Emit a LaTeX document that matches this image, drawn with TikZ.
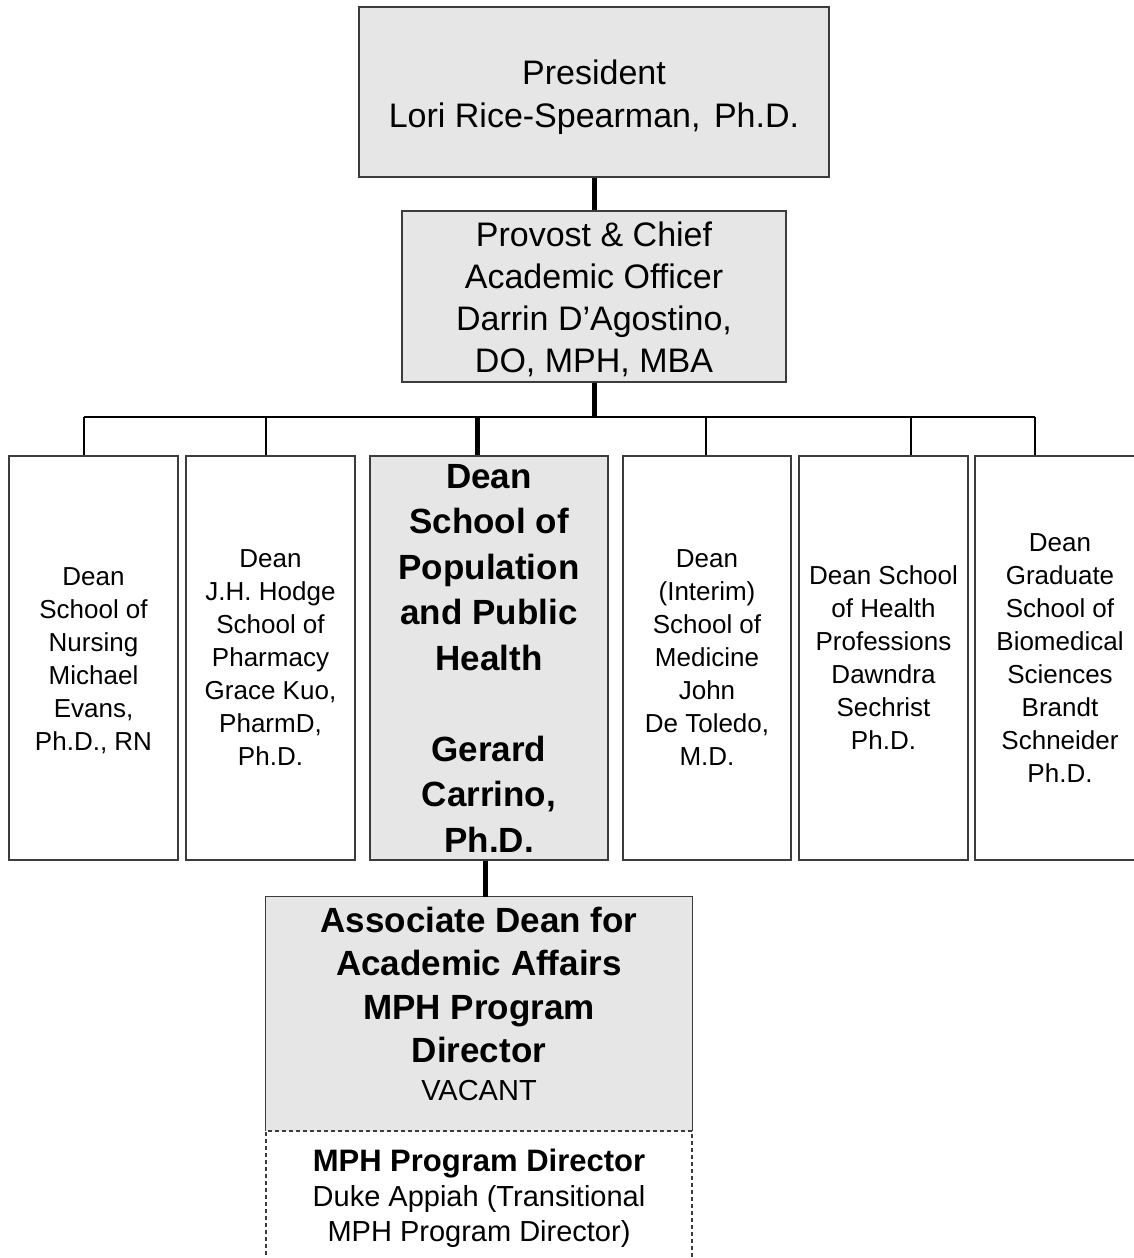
\documentclass[tikz,border=0pt]{standalone}
\usepackage{fontspec}
\setmainfont{Liberation Sans}
\definecolor{boxgray}{RGB}{230,230,230}
\definecolor{edgecol}{RGB}{60,60,60}
\begin{document}
\begin{tikzpicture}[x=1bp,y=-1bp,
  orgbox/.style={draw=edgecol, line width=1.3bp, inner sep=0pt, align=center, text=black},
  graybox/.style={orgbox, fill=boxgray},
  deanbox/.style={orgbox, minimum height=404bp, font=\fontsize{26bp}{33bp}\selectfont},
  conn/.style={line width=1.4bp, black},
  trunk/.style={line width=5bp, black}]
\useasboundingbox (0,0) rectangle (1134,1258);
\clip (0,0) rectangle (1134,1258);
\fill[white] (0,0) rectangle (1134,1258);

\node[graybox, minimum width=470bp, minimum height=170bp, font=\fontsize{34bp}{43bp}\selectfont] (pres) at (594,92) {\rule{0pt}{35bp}President\\Lori Rice-Spearman,\hspace{0.12em} Ph.D.};
\node[graybox, minimum width=384bp, minimum height=171bp, font=\fontsize{34bp}{42bp}\selectfont] (prov) at (594,296.5) {\rule{0pt}{31bp}Provost \& Chief\\Academic Officer\\Darrin D’Agostino,\\DO, MPH, MBA};

\node[deanbox, minimum width=169bp] (d1) at (93.5,658) {\rule{0pt}{24bp}Dean\\School of\\Nursing\\Michael\\Evans,\\Ph.D., RN};
\node[deanbox, minimum width=169bp] (d2) at (270.5,658) {Dean\\J.H. Hodge\\School of\\Pharmacy\\Grace Kuo,\\PharmD,\\Ph.D.};
\node[deanbox, fill=boxgray, minimum width=238bp, font=\fontsize{35bp}{45.5bp}\selectfont\bfseries] (d3) at (489,658) {Dean\\School of\\Population\\and Public\\Health\\[45.5bp]Gerard\\Carrino,\\Ph.D.};
\node[deanbox, minimum width=168bp] (d4) at (707,658) {Dean\\(Interim)\\School of\\Medicine\\John\\De Toledo,\\M.D.};
\node[deanbox, minimum width=169bp] (d5) at (883.5,658) {Dean School\\of Health\\Professions\\Dawndra\\Sechrist\\Ph.D.};
\node[deanbox, minimum width=170bp] (d6) at (1060,658) {Dean\\Graduate\\School of\\Biomedical\\Sciences\\Brandt\\Schneider\\Ph.D.};

\node[fill=boxgray, inner sep=0pt, align=center, minimum width=426bp, minimum height=234bp, font=\fontsize{35bp}{43.5bp}\selectfont\bfseries] (assoc) at (479,1014) {Associate Dean for\\Academic Affairs\\MPH Program\\Director\\[-6bp]{\fontsize{29bp}{36bp}\selectfont\mdseries VACANT\rule[-21bp]{0pt}{21bp}}};
\draw[draw=edgecol, line width=1.3bp] (assoc.south west) -- (assoc.north west) -- (assoc.north east) -- (assoc.south east);
\node[orgbox, dashed, dash pattern=on 4bp off 3bp, minimum width=426bp, minimum height=134bp, font=\fontsize{29bp}{35bp}\selectfont] (mph) at (479,1198) {{\fontsize{31bp}{38bp}\selectfont\bfseries MPH Program\ Director}\\Duke Appiah\ (Transitional\\MPH Program Director)};

\coordinate (hub) at (594,417);
\coordinate (b1) at (84,417);
\coordinate (b2) at (266,417);
\coordinate (b3) at (477,417);
\coordinate (b4) at (706,417);
\coordinate (b5) at (911,417);
\coordinate (b6) at (1035,417);

\draw[trunk] (pres.south) -- (prov.north);
\draw[trunk] (prov.south) -- (hub);
\draw[conn] (b1) -- (b6);
\draw[conn] (b1) -- (b1 |- d1.north);
\draw[conn] (b2) -- (b2 |- d2.north);
\draw[trunk] (b3) -- (b3 |- d3.north);
\draw[conn] (b4) -- (b4 |- d4.north);
\draw[conn] (b5) -- (b5 |- d5.north);
\draw[conn] (b6) -- (b6 |- d6.north);
\draw[trunk] ([xshift=-4bp]d3.south) -- ([xshift=-4bp]d3.south |- assoc.north);
\end{tikzpicture}
\end{document}
